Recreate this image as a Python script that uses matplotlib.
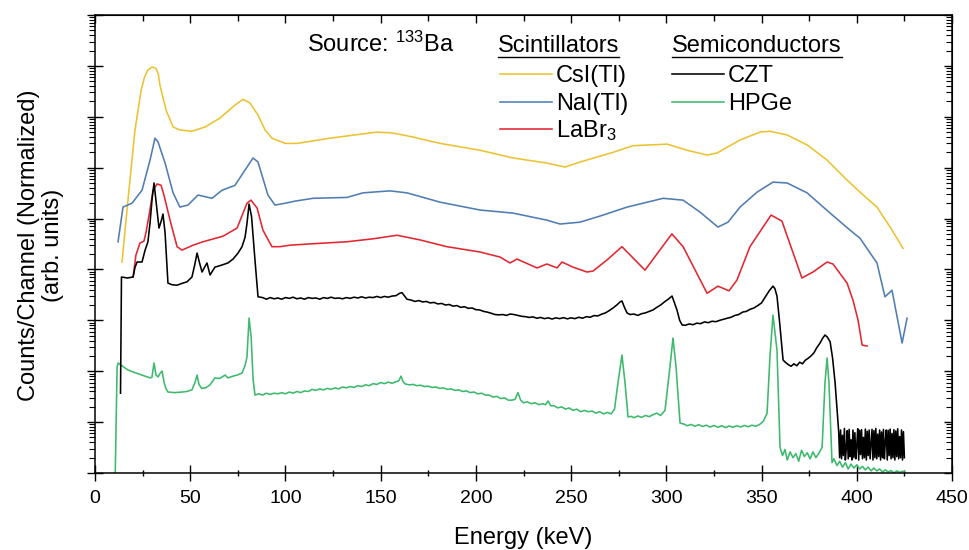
import matplotlib
matplotlib.use('Agg')
import matplotlib.pyplot as plt
from matplotlib.ticker import LogLocator, MultipleLocator, NullFormatter
from matplotlib.lines import Line2D

# ---------------- data (energy in keV, counts per channel, normalized/offset) ----------------
csi_e = [14.2, 17.3, 21.0, 24.2, 26.0, 27.8, 29.9, 32.0, 33.2, 34.1, 37.3, 41.0, 44.6, 50.9,
         57.8, 65.6, 73.5, 77.7, 81.4, 85.6, 89.3, 92.9, 99.8, 106.1, 123.4, 148.1, 156.5,
         167.0, 181.2, 202.2, 219.5, 237.3, 246.8, 254.7, 272.0, 282.5, 300.4, 310.9, 321.4,
         326.6, 338.7, 349.2, 354.4, 363.4, 373.9, 384.4, 394.9, 401.7, 410.6, 417.5, 424.3]
csi_c = [1.4e4, 2.3e5, 5.5e6, 3.3e7, 6.0e7, 8.3e7, 9.5e7, 9.0e7, 7.0e7, 4.2e7, 1.36e7, 6.3e6,
         5.5e6, 5.2e6, 6.3e6, 9.4e6, 1.7e7, 2.2e7, 1.86e7, 1.08e7, 5.5e6, 3.8e6, 3.0e6, 3.0e6,
         3.8e6, 5.0e6, 4.8e6, 4.0e6, 3.0e6, 2.2e6, 1.55e6, 1.23e6, 1.03e6, 1.29e6, 2.0e6, 2.7e6,
         2.9e6, 2.2e6, 1.77e6, 1.94e6, 3.5e6, 5.0e6, 5.2e6, 4.4e6, 2.8e6, 1.41e6, 5.7e5, 3.3e5,
         1.68e5, 6.8e4, 2.6e4]

nai_e = [12.1, 14.7, 19.4, 24.7, 28.9, 31.5, 33.1, 36.8, 41.0, 44.6, 48.8, 54.1, 61.4, 66.7,
         73.5, 78.8, 83.0, 85.6, 90.8, 94.5, 99.8, 105.0, 114.5, 132.3, 140.7, 154.9, 163.8,
         181.2, 202.2, 219.5, 237.3, 244.2, 254.7, 265.2, 279.4, 298.3, 308.8, 317.7, 327.1,
         332.4, 338.7, 347.6, 356.0, 363.4, 373.9, 386.0, 396.5, 401.7, 410.6, 414.8, 418.5,
         423.8, 426.4]
nai_c = [3.5e4, 1.68e5, 2.0e5, 3.6e5, 1.41e6, 3.8e6, 3.2e6, 1.23e6, 3.2e5, 1.68e5, 1.84e5,
         2.9e5, 2.5e5, 3.6e5, 4.5e5, 9.0e5, 1.55e6, 1.29e6, 2.9e5, 1.84e5, 2.0e5, 2.2e5, 2.5e5,
         2.6e5, 3.2e5, 3.5e5, 3.2e5, 2.1e5, 1.47e5, 1.28e5, 9.3e4, 7.8e4, 8.5e4, 1.12e5, 1.68e5,
         2.5e5, 2.3e5, 1.34e5, 6.8e4, 8.5e4, 1.68e5, 3.3e5, 5.2e5, 5.0e5, 3.2e5, 1.28e5, 5.9e4,
         4.1e4, 1.34e4, 2.9e3, 3.9e3, 358, 1.1e3]

labr_e = [20.0, 21.5, 23.6, 25.7, 26.8, 28.4, 30.5, 32.6, 34.7, 36.2, 39.4, 43.1, 45.7, 51.5,
          56.7, 67.2, 74.6, 79.8, 81.9, 85.1, 88.2, 92.9, 97.1, 102.4, 114.5, 132.3, 146.0,
          158.6, 170.7, 184.8, 202.2, 212.7, 217.9, 221.6, 232.1, 237.3, 242.6, 245.2, 251.0,
          258.3, 261.5, 268.8, 276.7, 288.8, 302.9, 308.8, 321.4, 327.1, 332.9, 337.1, 343.9,
          355.0, 360.7, 371.2, 377.0, 384.4, 387.5, 394.9, 398.0, 400.7, 402.8, 405.4]
labr_c = [7.1e3, 1.92e4, 3.3e4, 3.6e4, 5.4e4, 1.17e5, 3.6e5, 4.8e5, 4.5e5, 2.9e5, 9.3e4, 2.8e4,
          2.4e4, 3.0e4, 3.5e4, 4.5e4, 6.5e4, 2.0e5, 2.3e5, 1.61e5, 5.9e4, 2.8e4, 2.8e4, 3.0e4,
          3.2e4, 3.5e4, 4.0e4, 4.7e4, 3.8e4, 2.8e4, 2.2e4, 1.75e4, 1.34e4, 1.6e4, 1.07e4, 1.28e4,
          1.07e4, 1.4e4, 1.11e4, 8.9e3, 9.3e3, 1.53e4, 2.8e4, 9.7e3, 5.0e4, 2.8e4, 3.4e3, 4.7e3,
          3.8e3, 6.2e3, 2.8e4, 1.17e5, 8.9e4, 6.8e3, 8.9e3, 1.4e4, 1.28e4, 5.4e3, 2.5e3, 1.0e3,
          327, 313]

czt_e = [13.4, 13.9, 17.0, 20.0, 21.0, 22.1, 24.7, 26.3, 27.8, 28.9,
         30.0, 31.0, 32.0, 33.6, 34.8, 35.7, 36.8, 38.3, 40.5, 43.1,
         45.5, 48.3, 50.9, 52.3, 53.6, 55.0, 56.2, 57.5, 58.8, 60.4,
         63.0, 66.0, 69.8, 72.5, 75.1, 77.2, 78.8, 79.8, 80.9, 82.2,
         84.0, 85.6,
         88, 90, 92, 94, 96, 98, 100, 102, 104, 106,
         108, 110, 112, 114, 116, 118, 120, 122, 124, 126,
         128, 130, 132, 134, 136, 138, 140, 142, 144, 146,
         148, 150, 152, 154, 156,
         158, 160, 161.2, 163.8,
         166, 168, 170, 172, 174, 176, 178, 180, 182, 184,
         186, 188, 190, 192, 194, 196, 198, 200, 202, 204,
         206, 208, 210, 212, 214, 216, 218, 220, 222, 224,
         226, 228, 230, 232, 234, 236, 238, 240, 242, 244,
         246, 248, 250, 252, 254, 256, 258, 260, 262, 264,
         266, 268, 270, 272,
         274, 275.7, 276.7, 278.0, 279.4, 281, 283, 285, 287, 289,
         291, 293, 295, 297, 299, 301, 303.0, 304.3, 305.6, 307, 308.3,
         310, 312, 314, 316, 318, 320, 322, 324, 326, 328,
         330, 332, 334, 336, 338, 340, 342, 344, 346, 348, 350,
         352, 354, 356.0, 357, 358.1, 359.5, 361.3, 362.5, 364, 365.5,
         367, 368.5, 370, 371.5, 373, 374.5, 376, 377.5, 379, 380.7,
         382, 383.3, 384.5, 386.0, 387.3, 388.6, 390.2,
         390.5, 391.0, 391.5, 392.0, 392.5, 393.0, 393.5, 394.0, 394.5, 395.0,
         395.5, 396.0, 396.5, 397.0, 397.5, 398.0, 398.5, 399.0, 399.5, 400.0,
         400.5, 401.0, 401.5, 402.0, 402.5, 403.0, 403.5, 404.0, 404.5, 405.0,
         405.5, 406.0, 406.5, 407.0, 407.5, 408.0, 408.5, 409.0, 409.5, 410.0,
         410.5, 411.0, 411.5, 412.0, 412.5, 413.0, 413.5, 414.0, 414.5, 415.0,
         415.5, 416.0, 416.5, 417.0, 417.5, 418.0, 418.5, 419.0, 419.5, 420.0,
         420.5, 421.0, 421.5, 422.0, 422.5, 423.0, 423.5, 424.0, 424.5, 425.0]
czt_c = [37, 7.1e3, 6.8e3, 7.1e3, 1.1e4, 1.4e4, 1.4e4, 2.4e4, 3.5e4, 8.2e4,
         2.5e5, 5.0e5, 2.3e5, 6.5e4, 9.0e4, 1.23e5, 5.2e4, 5.4e3, 5.0e3, 4.9e3,
         5.3e3, 5.7e3, 7.1e3, 1.2e4, 2.1e4, 1.3e4, 8.9e3, 1.1e4, 1.34e4, 7.8e3,
         1.11e4, 1.2e4, 1.34e4, 1.6e4, 2.1e4, 2.8e4, 4.3e4, 8.0e4, 1.93e5, 1.1e5,
         1.53e4, 2.9e3,
         2.8e3, 2.6e3, 2.8e3, 2.65e3, 2.75e3, 2.6e3, 2.8e3, 2.7e3, 2.85e3, 2.65e3,
         2.75e3, 2.6e3, 2.8e3, 2.7e3, 2.75e3, 2.6e3, 2.8e3, 2.7e3, 2.85e3, 2.7e3,
         2.75e3, 2.65e3, 2.8e3, 2.7e3, 2.85e3, 2.75e3, 2.9e3, 2.75e3, 2.85e3, 2.8e3,
         2.95e3, 2.8e3, 2.95e3, 2.85e3, 3.0e3,
         3.05e3, 3.4e3, 3.5e3, 2.6e3,
         2.5e3, 2.35e3, 2.45e3, 2.3e3, 2.35e3, 2.2e3, 2.25e3, 2.1e3, 2.15e3, 2.0e3,
         2.05e3, 1.9e3, 1.95e3, 1.8e3, 1.85e3, 1.72e3, 1.75e3, 1.62e3, 1.6e3, 1.5e3,
         1.45e3, 1.38e3, 1.3e3, 1.28e3, 1.3e3, 1.25e3, 1.33e3, 1.3e3, 1.25e3, 1.2e3,
         1.18e3, 1.14e3, 1.17e3, 1.1e3, 1.14e3, 1.08e3, 1.12e3, 1.06e3, 1.12e3, 1.08e3,
         1.13e3, 1.07e3, 1.12e3, 1.08e3, 1.15e3, 1.1e3, 1.18e3, 1.15e3, 1.24e3, 1.22e3,
         1.32e3, 1.4e3, 1.55e3, 1.75e3,
         2.0e3, 2.3e3, 2.4e3, 1.8e3, 1.39e3, 1.3e3, 1.33e3, 1.25e3, 1.35e3, 1.4e3,
         1.5e3, 1.6e3, 1.8e3, 2.0e3, 2.3e3, 2.6e3, 3.0e3, 2.2e3, 1.59e3, 1.0e3, 810,
         800, 850, 820, 880, 860, 930, 900, 960, 940, 1.0e3,
         1.05e3, 1.1e3, 1.15e3, 1.25e3, 1.3e3, 1.45e3, 1.5e3, 1.65e3, 1.75e3, 1.95e3, 2.2e3,
         2.9e3, 3.8e3, 4.7e3, 4.2e3, 3.0e3, 900, 166, 150, 135, 125,
         140, 128, 150, 140, 165, 180, 200, 230, 290, 358,
         440, 514, 470, 380, 180, 60, 9.6,
         6.5, 2.0, 7.0, 1.9, 5.5, 2.2, 7.5, 1.8, 3.0, 6.8,
         1.9, 7.2, 2.1, 4.5, 1.8, 7.0, 2.0, 6.2, 1.9, 3.5,
         7.4, 1.8, 6.9, 2.3, 7.1, 1.9, 5.0, 2.0, 7.3, 1.8,
         6.6, 2.2, 7.0, 1.9, 3.8, 7.2, 1.8, 6.8, 2.0, 7.5,
         1.9, 5.8, 2.1, 7.0, 1.8, 6.4, 2.0, 7.2, 1.9, 4.2,
         7.0, 1.8, 6.9, 2.2, 7.3, 1.9, 6.0, 2.0, 7.1, 1.8,
         6.7, 2.1, 7.4, 1.9, 5.2, 2.0, 7.0, 1.8, 6.5, 2.0]

hpge_e = [10.5, 11.6, 12.1, 14.5, 17.3, 20.5, 24.7, 28.9, 29.9, 31.0,
          32.0, 33.1, 34.1, 35.2, 36.3, 37.3, 38.3, 42.0, 45.7, 48.3,
          50.9, 52.5, 53.6, 54.6, 56.0, 58.0, 60.4, 63.0, 65.5, 68.3,
          69.8, 72.5, 75.0, 77.2, 78.8, 79.8, 80.9, 82.0, 83.0, 84.0,
          86, 88, 90, 92, 94, 96, 98, 100, 102, 104,
          106, 108, 110, 112, 114, 116, 118, 120, 122, 124,
          126, 128, 130, 132, 134, 136, 138, 140, 142, 144,
          146, 148, 150, 152, 154, 156, 158,
          159.5, 160.7, 161.8,
          163, 165, 167, 169, 171, 173, 175, 177, 179, 181,
          183, 185, 187, 189, 191, 193, 195, 197, 199, 201,
          203, 205, 207, 209, 211, 213, 215, 217, 219,
          220.5, 222.1, 223.5,
          225, 227, 229, 231, 233, 235,
          236.5, 237.9, 239.3,
          241, 243, 245, 247, 249, 251, 253, 255, 257, 259,
          261, 263, 265, 267, 269, 271,
          272.8, 274.6, 276.7, 278.3, 279.9, 281.5, 283, 285, 287, 289,
          291, 293, 295, 297, 299.3, 301.9, 303.5, 305.1, 307.2,
          309, 311, 313, 315, 317, 319, 321, 323, 325, 327,
          329, 331, 333, 335, 337, 339, 341, 343, 345, 347,
          349, 351,
          352.9, 354.4, 356.0, 358.1, 359.7,
          361, 362.3, 363.5, 365, 366.5, 368, 369.5, 371, 372.5, 374,
          375.5, 377, 378.5, 380, 381.8, 383.3, 384.4, 385.4, 387.0,
          388, 389.6, 391, 392.5, 394, 395.5, 397, 398.5, 400, 401.5,
          403, 404.5, 406, 407.5, 409, 410.5, 412, 413.5, 415, 416.5,
          418, 419.5, 421, 422.5, 424, 425.3]
hpge_c = [0.5, 120, 145, 125, 106, 95, 84, 74, 76, 145,
          85, 77, 90, 101, 60, 45, 39, 38, 39, 40,
          43, 60, 84, 55, 46, 47, 54, 74, 72, 84,
          74, 80, 85, 92, 130, 190, 1.11e3, 470, 70, 34,
          36, 34, 37, 35, 37, 36, 38, 36, 39, 37,
          40, 38, 41, 40, 44, 42, 45, 43, 46, 44,
          47, 45, 49, 47, 50, 48, 52, 50, 54, 52,
          57, 55, 60, 57, 61, 58, 62,
          65, 80, 62,
          56, 54, 55, 52, 53, 50, 51, 48, 49, 46,
          47, 44, 45, 42, 43, 40, 41, 38, 39, 36,
          37, 34, 34, 31, 32, 29, 30, 27, 27,
          28, 38, 27,
          24, 25, 23, 24, 22, 23,
          22, 26, 21,
          21, 19, 20, 18, 19, 17, 18, 16, 17, 16,
          16.5, 15, 16, 14.5, 15.5, 14.5,
          18, 59, 208, 59, 12.6, 13, 12.2, 13.2, 12.4, 13.5,
          12.8, 14.0, 15, 13.5, 17, 121, 449, 121, 9.6,
          9.2, 8.5, 9.0, 8.3, 8.9, 8.2, 8.7, 8.0, 8.6, 7.9,
          8.5, 7.8, 8.4, 7.9, 8.5, 8.0, 8.6, 8.1, 8.7, 8.3,
          9.0, 10.5,
          15, 190, 1.27e3, 261, 3.2,
          2.2, 2.9, 1.8, 2.6, 2.0, 2.4, 1.7, 2.8, 2.1, 2.5,
          1.9, 2.6, 2.0, 2.4, 3.2, 59, 182, 59, 1.6,
          1.9, 1.4, 1.7, 1.3, 1.6, 1.2, 1.5, 1.25, 1.45, 1.2,
          1.35, 1.15, 1.3, 1.1, 1.25, 1.1, 1.2, 1.05, 1.15, 1.05,
          1.12, 1.0, 1.1, 1.03, 1.08, 1.05]

# ---------------- figure ----------------
plt.rcParams['font.family'] = ['Liberation Sans', 'DejaVu Sans']
plt.rcParams['mathtext.fontset'] = 'custom'
plt.rcParams['mathtext.rm'] = 'Liberation Sans'
plt.rcParams['mathtext.it'] = 'Liberation Sans:italic'
plt.rcParams['mathtext.bf'] = 'Liberation Sans:bold'

W, H = 969, 550
fig = plt.figure(figsize=(W / 100, H / 100), dpi=100)
ax = fig.add_axes([95 / W, 1 - 473 / H, (952 - 95) / W, (473 - 15) / H])

col_csi = '#ecc232'
col_nai = '#4f7db3'
col_labr = '#e3262f'
col_czt = '#000000'
col_hpge = '#3cb96c'
lw = 1.15

ax.plot(csi_e, csi_c, color=col_csi, lw=lw)
ax.plot(nai_e, nai_c, color=col_nai, lw=lw)
ax.plot(labr_e, labr_c, color=col_labr, lw=lw)
ax.plot(hpge_e, hpge_c, color=col_hpge, lw=lw)
ax.plot(czt_e, czt_c, color=col_czt, lw=lw)

ax.set_yscale('log')
ax.set_xlim(0, 450)
ax.set_ylim(1, 1e9)

for s in ax.spines.values():
    s.set_linewidth(1.1)

ax.xaxis.set_major_locator(MultipleLocator(50))
ax.xaxis.set_minor_locator(MultipleLocator(25))
ax.yaxis.set_major_locator(LogLocator(base=10, numticks=20))
ax.yaxis.set_minor_locator(LogLocator(base=10, subs=[2, 3, 4, 5, 6, 7, 8, 9], numticks=200))
ax.yaxis.set_major_formatter(NullFormatter())
ax.yaxis.set_minor_formatter(NullFormatter())

ax.tick_params(axis='x', which='major', direction='inout', length=11.5, width=1.0,
               labelsize=14, pad=6.5, top=False)
ax.tick_params(axis='x', which='minor', direction='inout', length=5, width=1.0, top=False)
ax.tick_params(axis='y', which='major', direction='inout', length=11.5, width=1.0, right=False)
ax.tick_params(axis='y', which='minor', direction='out', length=4, width=0.8, right=False)

secx = ax.secondary_xaxis('top')
secx.xaxis.set_major_locator(MultipleLocator(50))
secx.xaxis.set_minor_locator(MultipleLocator(25))
secx.xaxis.set_major_formatter(NullFormatter())
secx.tick_params(axis='x', which='major', direction='in', length=6, width=1.0)
secx.tick_params(axis='x', which='minor', direction='in', length=4, width=1.0)

secy = ax.secondary_yaxis('right')
secy.yaxis.set_major_locator(LogLocator(base=10, numticks=20))
secy.yaxis.set_minor_locator(LogLocator(base=10, subs=[2, 3, 4, 5, 6, 7, 8, 9], numticks=200))
secy.yaxis.set_major_formatter(NullFormatter())
secy.yaxis.set_minor_formatter(NullFormatter())
secy.tick_params(axis='y', which='major', direction='in', length=6, width=1.0)
secy.tick_params(axis='y', which='minor', direction='in', length=4, width=0.8)

fs = 17
fig.text(523 / W, 1 - 538 / H, 'Energy (keV)', fontsize=fs, ha='center', va='center')
fig.text(41 / W, 1 - 245 / H, 'Counts/Channel (Normalized)\n(arb. units)', fontsize=fs,
         rotation=90, ha='center', va='center', multialignment='center', linespacing=1.15)

# ---------------- legend (hand placed, two groups) ----------------
def px(x, y):
    return x / W, 1 - y / H

fig.text(*px(307, 52), r'Source: $^{133}$Ba', fontsize=fs, va='baseline')
t1 = fig.text(*px(498, 52), 'Scintillators', fontsize=fs, va='baseline')
t2 = fig.text(*px(672, 52), 'Semiconductors', fontsize=fs, va='baseline')
fig.canvas.draw()
for t in (t1, t2):
    bb = t.get_window_extent()
    fig.add_artist(Line2D([bb.x0 / W, bb.x1 / W], [1 - 57 / H, 1 - 57 / H],
                          transform=fig.transFigure, color='black', lw=1.0))

rows = [(74, col_csi, 'CsI(Tl)', 500), (102, col_nai, 'NaI(Tl)', 500),
        (129, col_labr, r'LaBr$_3$', 500), (74, col_czt, 'CZT', 672), (102, col_hpge, 'HPGe', 672)]
for y, c, lab, x0 in rows:
    fig.add_artist(Line2D([x0 / W, (x0 + 52) / W], [1 - y / H, 1 - y / H],
                          transform=fig.transFigure, color=c, lw=lw))
    fig.text(*px(x0 + 56, y + 8), lab, fontsize=fs, va='baseline')

fig.savefig('out.png', dpi=100)
